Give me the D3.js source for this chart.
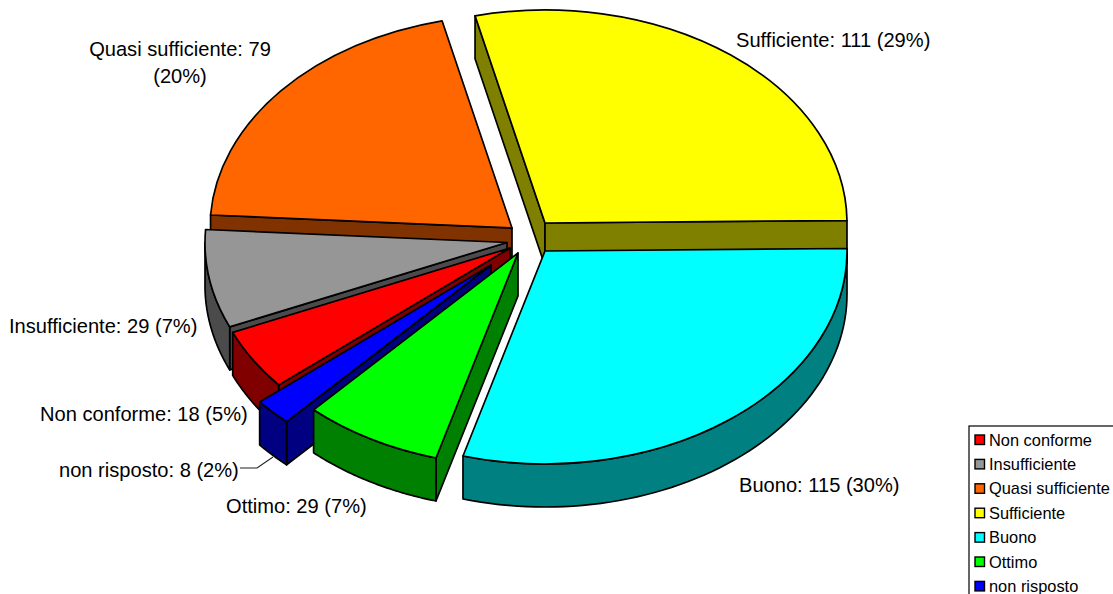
<!DOCTYPE html>
<html><head><meta charset="utf-8">
<script src="https://cdn.jsdelivr.net/npm/d3@7/dist/d3.min.js"></script>
<style>html,body{margin:0;padding:0;background:#fff;overflow:hidden}svg{display:block}text{font-family:"Liberation Sans",Arial,sans-serif;fill:#000}</style>
</head><body><svg id="c" width="1113" height="594"></svg>
<script>
const categories = ["Non conforme","Insufficiente","Quasi sufficiente","Sufficiente","Buono","Ottimo","non risposto"];
const values = [18,29,79,111,115,29,8];
const topColors = ["#FF0000","#969696","#FF6600","#FFFF00","#00FFFF","#00FF00","#0000FF"];
const sideColors = ["#800000","#4B4B4B","#803300","#808000","#008080","#008000","#000080"];
// layout of the exploded slices (screen position of each apex)
const apexX = [510,507,512,545,545,518,491];
const apexY = [248,242.5,228,223,251,253,265];
const drawOrder = [3,2,1,0,4,6,5];
const labelX = [40,9,180,736,739,226,59];
const labelY = [421,333,56,47,492,513,477];

const W=1113,H=594,RX=302,RY=213,DEPTH=43,SW=1.7;
const rad=d=>d*Math.PI/180, START=rad(230);
const total=d3.sum(values);
const arcs=d3.pie().sort(null).value(d=>d).startAngle(START).endAngle(START+2*Math.PI)(values);
const svg=d3.select("#c");
const R=100, sx=d3.scaleLinear().domain([-1,1]).range([-RX,RX]), sy=d3.scaleLinear().domain([-1,1]).range([-RY,RY]);
const arcGen=d3.arc().innerRadius(0).outerRadius(R);
const pt=(i,a,dz=0)=>[apexX[i]+sx(Math.sin(a)),apexY[i]-sy(Math.cos(a))+dz];
const line=d3.line();

function wallRanges(a0,a1){ // parts of the rim facing the viewer
  const out=[];
  for(let k=0;k<3;k++){
    const lo=Math.max(a0,Math.PI/2+2*Math.PI*k), hi=Math.min(a1,3*Math.PI/2+2*Math.PI*k);
    if(hi>lo) out.push([lo,hi]);
  }
  return out;
}
const base={stroke:"#000","stroke-width":SW,"stroke-linejoin":"round"};
function styled(sel,fill){sel.attr("fill",fill);for(const k in base)sel.attr(k,base[k]);return sel;}

drawOrder.forEach(i=>{
  const d=arcs[i], g=svg.append("g").attr("class","slice");
  const A=[apexX[i],apexY[i]], Ad=[A[0],A[1]+DEPTH];
  if(Math.sin(d.startAngle)<0){const P=pt(i,d.startAngle),Pd=pt(i,d.startAngle,DEPTH);
    styled(g.append("path").attr("d",line([A,P,Pd,Ad])+"Z"),sideColors[i]);}
  if(Math.sin(d.endAngle)>0){const P=pt(i,d.endAngle),Pd=pt(i,d.endAngle,DEPTH);
    styled(g.append("path").attr("d",line([A,P,Pd,Ad])+"Z"),sideColors[i]);}
  wallRanges(d.startAngle,d.endAngle).forEach(([lo,hi])=>{
    const as=d3.range(0,61).map(t=>lo+(hi-lo)*t/60);
    const pts=as.map(a=>pt(i,a)).concat(as.slice().reverse().map(a=>pt(i,a,DEPTH)));
    styled(g.append("path").attr("d",line(pts)+"Z"),sideColors[i]);
  });
  styled(g.append("path").attr("d",arcGen(d))
    .attr("transform",`translate(${A[0]},${A[1]}) scale(${RX/R},${RY/R})`)
    .attr("vector-effect","non-scaling-stroke"),topColors[i]);
});

// leader line of the smallest slice
svg.append("path").attr("d",line([[240,468],[257,468],[273,457]])).attr("fill","none").attr("stroke","#222").attr("stroke-width",1.1);

// data labels
const FS=20.1;
const lab=i=>`${categories[i]}: ${values[i]} (${Math.round(values[i]/total*100)}%)`;
categories.forEach((c,i)=>{
  if(i===2){
    const t=svg.append("text").attr("font-size",FS).attr("text-anchor","middle");
    t.append("tspan").attr("x",labelX[i]).attr("y",labelY[i]).text(`${c}: ${values[i]}`);
    t.append("tspan").attr("x",labelX[i]).attr("y",labelY[i]+27).text(`(${Math.round(values[i]/total*100)}%)`);
  } else {
    svg.append("text").attr("font-size",FS).attr("x",labelX[i]).attr("y",labelY[i]).text(lab(i));
  }
});

// legend
const lx=969,ly=426,step=24.4;
svg.append("rect").attr("x",lx).attr("y",ly).attr("width",170).attr("height",200).attr("fill","#fff").attr("stroke","#000").attr("stroke-width",1.2);
categories.forEach((c,i)=>{
  const y=ly+14+i*step;
  svg.append("rect").attr("x",lx+6).attr("y",y-5).attr("width",9.5).attr("height",9.5).attr("fill",topColors[i]).attr("stroke","#000").attr("stroke-width",1.4);
  svg.append("text").attr("x",lx+20).attr("y",y+5.5).attr("font-size",16.4).text(c);
});
</script></body></html>
